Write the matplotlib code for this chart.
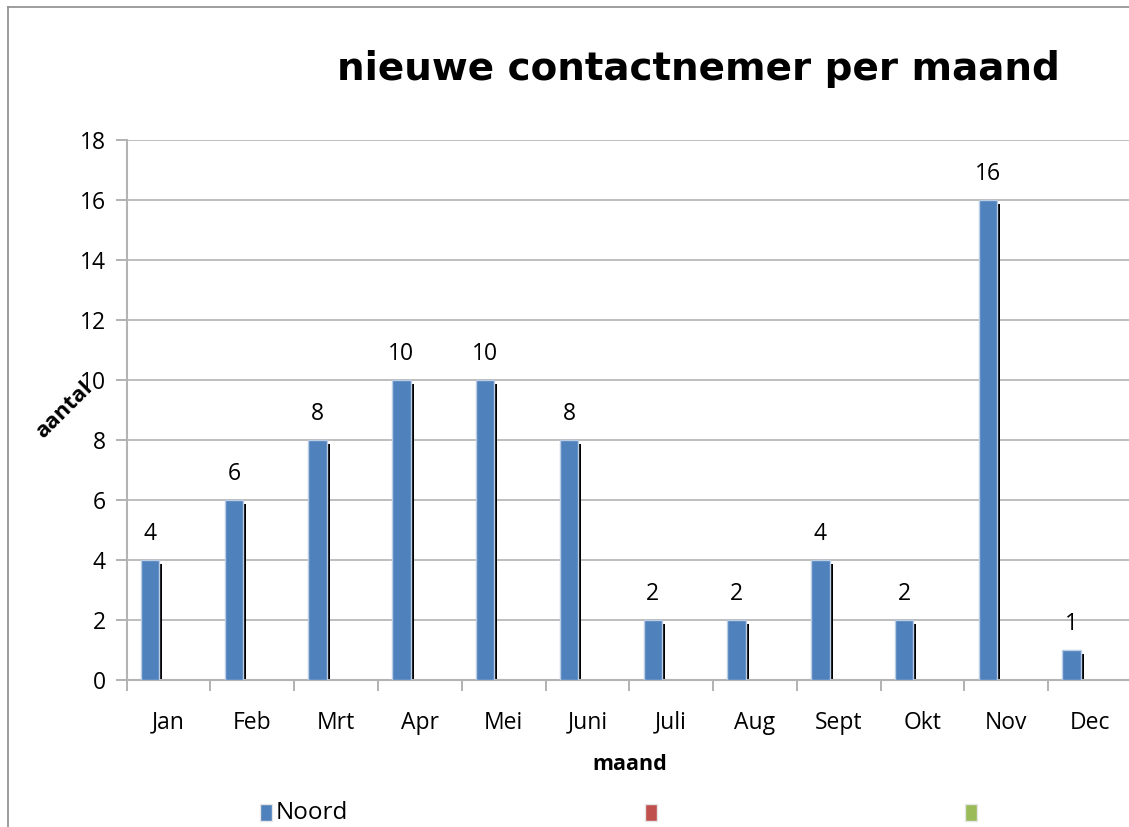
import matplotlib
matplotlib.use("Agg")
import matplotlib.pyplot as plt
from matplotlib.patches import Rectangle
from matplotlib.lines import Line2D

months = ["Jan", "Feb", "Mrt", "Apr", "Mei", "Juni", "Juli", "Aug", "Sept", "Okt", "Nov", "Dec"]
noord = [4, 6, 8, 10, 10, 8, 2, 2, 4, 2, 16, 1]
yticks = [0, 2, 4, 6, 8, 10, 12, 14, 16, 18]
legend_labels = ["Noord", "", ""]
legend_colors = ["#4F81BD", "#C0504D", "#9BBB59"]

plt.rcParams['font.family'] = ['Open Sans', 'DejaVu Sans']

W, H = 1129, 827
fig = plt.figure(figsize=(W / 100, H / 100), dpi=100)

x0, x1 = 126.7, 1132.0
y0, y1 = 680.0, 140.0
ax = fig.add_axes([x0 / W, 1 - y0 / H, (x1 - x0) / W, (y0 - y1) / H])
ax.set_xlim(0, 12)
ax.set_ylim(0, 18)

# gridlines
ax.set_yticks(yticks)
ax.yaxis.grid(True, color="#b3b3b3", linewidth=1.2)
ax.set_axisbelow(True)

off = 0.17
bw = 0.22
px_x = 12 / (x1 - x0)
px_y = 18 / (y0 - y1)
for i, v in enumerate(noord):
    # shadow
    ax.bar(i + off + 3 * px_x, v - 4 * px_y, width=bw, align="edge", color="black", zorder=2)
    ax.bar(i + off, v, width=bw, align="edge", color="#4F81BD", edgecolor="#b9cde5",
           linewidth=1.0, zorder=3)
    ax.annotate(str(v), (i + off + bw / 2, v), xytext=(0, 10), textcoords="offset points",
                ha="center", va="bottom", fontsize=16.5, color="black")

ax.set_xticks(range(13))
ax.set_xticklabels([])
ax.set_xticks([i + 0.5 for i in range(12)], minor=True)
ax.set_xticklabels(months, minor=True, fontsize=16.5)
ax.tick_params(axis="x", which="minor", length=0, pad=22)
ax.tick_params(axis="x", which="major", length=8, color="#a6a6a6", width=1.2, direction="out")
ax.tick_params(axis="y", length=8, color="#a6a6a6", width=1.2, labelsize=16.5, pad=7)
ax.set_yticklabels([str(t) for t in yticks])

for s in ["top", "right"]:
    ax.spines[s].set_visible(False)
for s in ["left", "bottom"]:
    ax.spines[s].set_color("#b3b3b3")
    ax.spines[s].set_linewidth(1.5)

ax.set_xlabel("maand", fontsize=15.5, fontweight="bold", labelpad=14)

fig.text(64 / W, 1 - 410 / H, "aantal", rotation=45, fontsize=16, fontweight="bold",
         ha="center", va="center")
fig.text(698 / W, 1 - 69 / H, "nieuwe contactnemer per maand", fontsize=28, fontweight="bold",
         family="DejaVu Sans", ha="center", va="center")

# legend
leg_x = [260, 645, 965]
for lx, lab, col in zip(leg_x, legend_labels, legend_colors):
    fig.patches.append(Rectangle((lx / W, 1 - 821 / H), 12 / W, 17 / H, transform=fig.transFigure,
                                 facecolor=col, edgecolor="#e6e6e6", linewidth=1.0))
    if lab:
        fig.text((lx + 16) / W, 1 - 813 / H, lab, fontsize=17.5, ha="left", va="center")

# frame
fig.lines.append(Line2D([8 / W, 8 / W], [0, 1 - 7 / H], transform=fig.transFigure, color="#8c8c8c", linewidth=1.2))
fig.lines.append(Line2D([8 / W, 1], [1 - 7 / H, 1 - 7 / H], transform=fig.transFigure, color="#8c8c8c", linewidth=1.2))

fig.savefig("out.png", dpi=100)
